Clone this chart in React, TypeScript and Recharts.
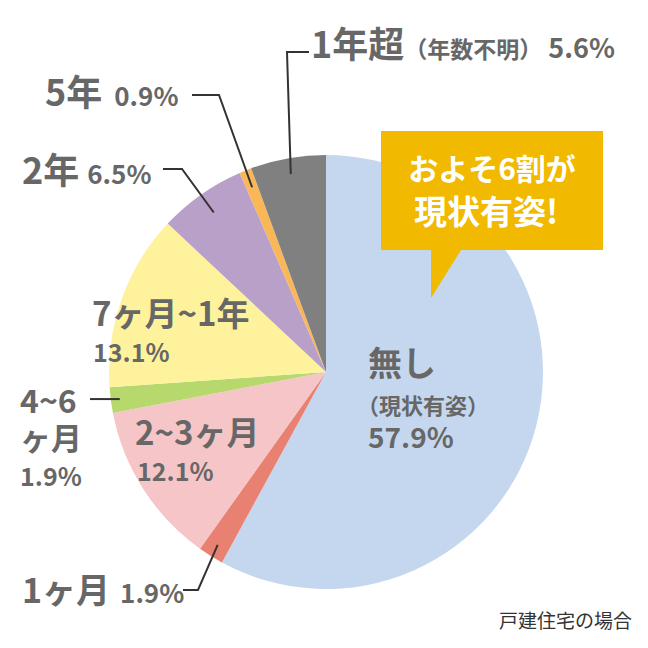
import React from "react";
import { PieChart, Pie, Cell } from "recharts";

const categories = ["無し", "1ヶ月", "2~3ヶ月", "4~6ヶ月", "7ヶ月~1年", "2年", "5年", "1年超"];
const values = [57.9, 1.9, 12.1, 1.9, 13.1, 6.5, 0.9, 5.6];
const percentLabels = ["57.9%", "1.9%", "12.1%", "1.9%", "13.1%", "6.5%", "0.9%", "5.6%"];
const colors = ["#c5d7ee", "#e88172", "#f5c5c8", "#b6d86c", "#fef29c", "#b8a0c8", "#fab758", "#808080"];
const calloutLines = ["およそ6割が", "現状有姿!"];
const footnote = "戸建住宅の場合";

const data = categories.map((name, i) => ({ name, value: values[i] }));

const FONT = '"Noto Sans CJK JP", "Noto Sans", sans-serif';
const TEXT = "#676767";
const LINE = "#333333";
const RAD = Math.PI / 180;

type Piece = { t: string; size: number; dx?: number };
type Row = { x: number; y: number; pieces: Piece[] };
type Layout = { rows: Row[]; line?: { r: number; pts: [number, number | null][] } };

const layouts: Layout[] = [
  {
    rows: [
      { x: 368, y: 376, pieces: [{ t: "無し", size: 34 }] },
      { x: 357, y: 414, pieces: [{ t: "（現状有姿）", size: 22 }] },
      { x: 368, y: 448, pieces: [{ t: "57.9%", size: 28 }] },
    ],
  },
  {
    rows: [{ x: 22, y: 603, pieces: [{ t: "1ヶ月", size: 34 }, { t: "1.9%", size: 26, dx: 10 }] }],
    line: { r: 204, pts: [[198, 590], [183, 590]] },
  },
  {
    rows: [
      { x: 135, y: 445, pieces: [{ t: "2~3ヶ月", size: 33 }] },
      { x: 137, y: 481, pieces: [{ t: "12.1%", size: 25 }] },
    ],
  },
  {
    rows: [
      { x: 20, y: 413, pieces: [{ t: "4~6", size: 32 }] },
      { x: 20, y: 450, pieces: [{ t: "ヶ月", size: 31 }] },
      { x: 20, y: 486, pieces: [{ t: "1.9%", size: 25 }] },
    ],
    line: { r: 208, pts: [[90, null]] },
  },
  {
    rows: [
      { x: 92, y: 326, pieces: [{ t: "7ヶ月~1年", size: 33 }] },
      { x: 93, y: 362, pieces: [{ t: "13.1%", size: 25 }] },
    ],
  },
  {
    rows: [{ x: 22, y: 184, pieces: [{ t: "2年", size: 36 }, { t: "6.5%", size: 26, dx: 8 }] }],
    line: { r: 195, pts: [[182, 169], [163, 169]] },
  },
  {
    rows: [{ x: 45, y: 106, pieces: [{ t: "5年", size: 36 }, { t: "0.9%", size: 26, dx: 12 }] }],
    line: { r: 199, pts: [[219, 95], [192, 95]] },
  },
  {
    rows: [
      {
        x: 311,
        y: 58,
        pieces: [
          { t: "1年超", size: 36 },
          { t: "（年数不明）", size: 23 },
          { t: "5.6%", size: 27, dx: 6 },
        ],
      },
    ],
    line: { r: 201, pts: [[287, 52], [309, 52]] },
  },
];

const renderLabel = (props: any) => {
  const { cx, cy, midAngle, index } = props;
  const lay = layouts[index];
  if (!lay) return null;
  let path: string | null = null;
  if (lay.line) {
    const sx = cx + lay.line.r * Math.cos(-midAngle * RAD);
    const sy = cy + lay.line.r * Math.sin(-midAngle * RAD);
    path =
      `M${sx},${sy}` +
      lay.line.pts.map((p) => ` L${p[0]},${p[1] === null ? sy : p[1]}`).join("");
  }
  return (
    <g key={`lab-${index}`}>
      {path && <path d={path} stroke={LINE} strokeWidth={2} fill="none" />}
      {lay.rows.map((row, ri) => (
        <text key={ri} x={row.x} y={row.y} fill={TEXT} fontFamily={FONT} fontWeight={700}>
          {row.pieces.map((p, pi) => (
            <tspan key={pi} fontSize={p.size} dx={p.dx ?? 0}>
              {p.t === percentLabels[index] ? percentLabels[index] : p.t}
            </tspan>
          ))}
        </text>
      ))}
    </g>
  );
};

export default function App() {
  return (
    <div style={{ position: "absolute", left: 0, top: 0, width: 648, height: 648, background: "#fff" }}>
      <PieChart width={648} height={648} margin={{ top: 0, right: 0, bottom: 0, left: 0 }}>
        <Pie
          data={data}
          dataKey="value"
          nameKey="name"
          cx={326}
          cy={372}
          outerRadius={217}
          innerRadius={0}
          startAngle={90}
          endAngle={-270}
          stroke="none"
          label={renderLabel}
          labelLine={false}
          isAnimationActive={false}
        >
          {data.map((d, i) => (
            <Cell key={d.name} fill={colors[i]} stroke="none" />
          ))}
        </Pie>
      </PieChart>
      <svg width={648} height={648} style={{ position: "absolute", left: 0, top: 0, pointerEvents: "none" }}>
        <path d="M381,131 L603,131 L603,250 L461,250 L431,298 L431,250 L381,250 Z" fill="#f1b900" />
        <text x={492} y={180} textAnchor="middle" fill="#fff" fontFamily={FONT} fontWeight={700} fontSize={30}>
          {calloutLines[0]}
        </text>
        <text x={486} y={224} textAnchor="middle" fill="#fff" fontFamily={FONT} fontWeight={700} fontSize={33}>
          {calloutLines[1]}
        </text>
        <text x={632} y={628} textAnchor="end" fill="#333" fontFamily={FONT} fontSize={19}>
          {footnote}
        </text>
      </svg>
    </div>
  );
}
